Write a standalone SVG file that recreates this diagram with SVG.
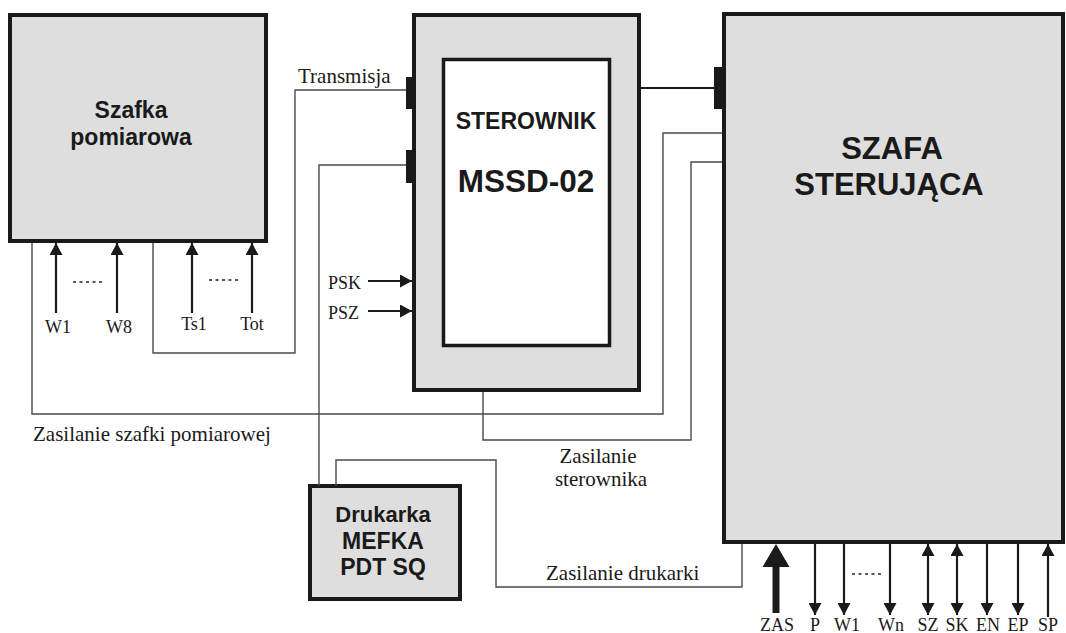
<svg xmlns="http://www.w3.org/2000/svg" width="1066" height="633" viewBox="0 0 1066 633">
<style>
.box{fill:#dedede;stroke:#1a1a1a;stroke-width:4}
.inner{fill:#ffffff;stroke:#1a1a1a;stroke-width:3.5}
.wire{fill:none;stroke:#4a4a4a;stroke-width:1.4}
.sig{fill:none;stroke:#1a1a1a;stroke-width:2.2}
.bold{font-family:"Liberation Sans",Arial,sans-serif;font-weight:bold;fill:#1a1a1a;text-anchor:middle}
.lbl{font-family:"Liberation Serif","Times New Roman",serif;fill:#1a1a1a}
.small{font-family:"Liberation Serif","Times New Roman",serif;fill:#1a1a1a;font-size:18px;text-anchor:middle}
.dots{fill:none;stroke:#222;stroke-width:1.5;stroke-dasharray:3 3.5}
.conn{fill:#1a1a1a}
</style>
<defs>
<marker id="arr" viewBox="0 0 12 13" refX="12" refY="6.5" markerWidth="12" markerHeight="13" markerUnits="userSpaceOnUse" orient="auto-start-reverse">
<path d="M0,0 L12,6.5 L0,13 z" fill="#1a1a1a"/>
</marker>
</defs>
<rect width="1066" height="633" fill="#ffffff"/>

<g id="szafka">
<rect class="box" x="10" y="15" width="256" height="226"/>
<text class="bold" x="131" y="118" font-size="23">Szafka</text>
<text class="bold" x="131" y="145" font-size="23">pomiarowa</text>
</g>

<g id="sterownik">
<rect class="box" x="414" y="15" width="225" height="375"/>
<rect class="inner" x="443.5" y="59.5" width="166" height="286"/>
<text class="bold" x="526" y="129" font-size="23">STEROWNIK</text>
<text class="bold" x="526" y="192" font-size="31.5">MSSD-02</text>
<rect class="conn" x="406" y="77" width="8" height="32"/>
<rect class="conn" x="406" y="150" width="8" height="33"/>
</g>

<g id="szafa">
<rect class="box" x="724" y="14" width="339" height="528"/>
<text class="bold" x="892" y="159" font-size="31">SZAFA</text>
<text class="bold" x="889" y="195" font-size="31">STERUJĄCA</text>
<rect class="conn" x="714" y="67" width="10" height="42"/>
</g>

<g id="drukarka">
<rect class="box" x="310" y="486" width="150" height="113"/>
<text class="bold" x="383" y="522" font-size="22">Drukarka</text>
<text class="bold" x="383" y="549" font-size="23">MEFKA</text>
<text class="bold" x="383" y="575" font-size="23">PDT SQ</text>
</g>

<g id="connectors">
<path class="wire" d="M406,90 H295 V353 H153 V243"/>
<path class="wire" d="M406,165 H319 V486"/>
<path class="wire" d="M32,243 V414 H663 V133 H722"/>
<path class="wire" d="M483,392 V440 H691 V162 H722"/>
<path class="wire" d="M336,486 V460 H496 V587 H742 V544"/>
<path d="M641,88 H714" stroke="#1a1a1a" stroke-width="2.2" fill="none"/>

<path class="sig" d="M56,313 V243" marker-end="url(#arr)"/>
<path class="sig" d="M117,313 V243" marker-end="url(#arr)"/>
<path class="sig" d="M192,313 V243" marker-end="url(#arr)"/>
<path class="sig" d="M252,313 V243" marker-end="url(#arr)"/>
<path class="dots" d="M73,282 H104"/>
<path class="dots" d="M209,280 H240"/>

<path class="sig" d="M368,281 H412" marker-end="url(#arr)"/>
<path class="sig" d="M368,311 H412" marker-end="url(#arr)"/>

<path d="M776,613 V562" stroke="#1a1a1a" stroke-width="7" fill="none"/>
<polygon points="776,544 789.5,567 762.5,567" fill="#1a1a1a"/>
<path class="sig" d="M815,544 V615" marker-end="url(#arr)"/>
<path class="sig" d="M844,544 V615" marker-end="url(#arr)"/>
<path class="sig" d="M890,544 V615" marker-end="url(#arr)"/>
<path class="dots" d="M852,574 H884"/>
<path class="sig" d="M928,544 V615" marker-start="url(#arr)" marker-end="url(#arr)"/>
<path class="sig" d="M957,544 V615" marker-start="url(#arr)" marker-end="url(#arr)"/>
<path class="sig" d="M987,544 V615" marker-end="url(#arr)"/>
<path class="sig" d="M1018,544 V615" marker-end="url(#arr)"/>
<path class="sig" d="M1048,617 V544" marker-end="url(#arr)"/>
</g>

<g id="labels">
<text class="lbl" x="298" y="83" font-size="21">Transmisja</text>
<text class="lbl" x="33" y="441" font-size="21">Zasilanie szafki pomiarowej</text>
<text class="lbl" x="598" y="463" font-size="21" text-anchor="middle">Zasilanie</text>
<text class="lbl" x="601" y="486" font-size="21" text-anchor="middle">sterownika</text>
<text class="lbl" x="546" y="580" font-size="21">Zasilanie drukarki</text>
<text class="lbl" x="328" y="289" font-size="18">PSK</text>
<text class="lbl" x="328" y="319" font-size="18">PSZ</text>
<text class="small" x="58" y="333">W1</text>
<text class="small" x="119" y="333">W8</text>
<text class="small" x="194" y="330">Ts1</text>
<text class="small" x="252" y="330">Tot</text>
<text class="small" x="777" y="631">ZAS</text>
<text class="small" x="815" y="631">P</text>
<text class="small" x="847" y="631">W1</text>
<text class="small" x="891" y="631">Wn</text>
<text class="small" x="928" y="631">SZ</text>
<text class="small" x="957" y="631">SK</text>
<text class="small" x="988" y="631">EN</text>
<text class="small" x="1018" y="631">EP</text>
<text class="small" x="1048" y="631">SP</text>
</g>
</svg>
